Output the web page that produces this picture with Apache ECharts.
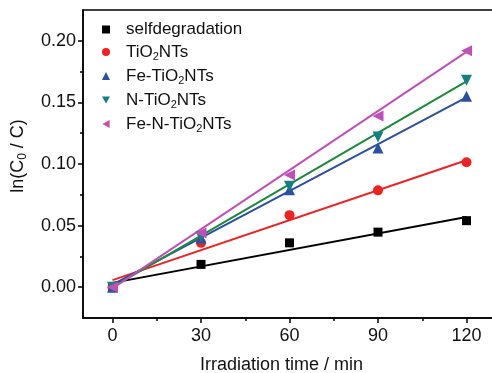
<!DOCTYPE html>
<html><head><meta charset="utf-8">
<script src="https://cdn.jsdelivr.net/npm/echarts@6/dist/echarts.min.js"></script>
<style>html,body{margin:0;padding:0;background:#fff}#c{width:492px;height:373px}</style>
</head><body><div id="c"></div>
<script>
const times = [0, 30, 60, 90, 120];
const selfdeg = [0.000, 0.0185, 0.036, 0.0447, 0.054];
const tio2 = [0.000, 0.036, 0.0585, 0.0786, 0.1014];
const feTio2 = [0.000, 0.040, 0.079, 0.113, 0.155];
const nTio2 = [0.000, 0.041, 0.082, 0.122, 0.168];
const feNTio2 = [0.000, 0.044, 0.091, 0.139, 0.192];
// fit line endpoints [value at 0, value at 120]
const fitSelf = [0.0035, 0.057];
const fitTio2 = [0.0057, 0.103];
const fitFe = [0.002, 0.154];
const fitN = [0.000, 0.167];
const fitFeN = [-0.001, 0.191];
const fitX = [0, 120];
const xLabels = [0, 30, 60, 90, 120];
const xMinor = [15, 45, 75, 105];
const yLabels = [0, 0.05, 0.10, 0.15, 0.20];
const yMinor = [0.025, 0.075, 0.125, 0.175];

const names = ['selfdegradation','TiO2NTs','Fe-TiO2NTs','N-TiO2NTs','Fe-N-TiO2NTs'];
const markerColors = ['#000000','#ee2222','#2c4fa6','#138080','#c050b8'];
const lineColors = ['#000000','#ee2222','#2c4fa6','#1b8a3a','#c050b8'];
const symbols = ['rect','circle','triangle','path://M0,0 L10,0 L5,9 Z','path://M9,0 L9,10 L0,5 Z'];
const sizes = [9,10,11,11,11];
const datas = [selfdeg,tio2,feTio2,nTio2,feNTio2];
const fits = [fitSelf,fitTio2,fitFe,fitN,fitFeN];

const font = 'Liberation Sans, Arial, sans-serif';
const tc = '#111';
const series = [];
fits.forEach((f,i)=>{
  series.push({type:'line', name:'fit'+i, data: fitX.map((x,k)=>[x,f[k]]), showSymbol:false, symbol:'none',
    lineStyle:{color:lineColors[i], width:2}, silent:true, z:2, xAxisIndex:0, yAxisIndex:0});
});
datas.forEach((d,i)=>{
  series.push({type:'scatter', name:names[i], data: times.map((t,k)=>[t,d[k]]), symbol:symbols[i],
    symbolSize:sizes[i], itemStyle:{color:markerColors[i], opacity:1}, z:3, xAxisIndex:0, yAxisIndex:0});
});

const chart = echarts.init(document.getElementById('c'));
chart.setOption({
  animation:false,
  grid:{left:83, top:10, bottom:55, right:-4, show:true, borderColor:'#000', borderWidth:1.5,
    containLabel:false, outerBoundsMode:'none'},
  legend:{
    orient:'vertical', left:102, top:21, itemGap:1, itemWidth:8, itemHeight:8, padding:0,
    data: names,
    formatter: function(n){
      if(n==='selfdegradation') return '{a|selfdegradation}';
      const p = n.split('2');
      return '{a|'+p[0]+'}{s|2}{a|'+p[1]+'}';
    },
    textStyle:{fontFamily:font, fontSize:17, color:tc, padding:[0,0,0,11],
      rich:{a:{fontFamily:font, fontSize:17, color:tc, lineHeight:20},
            s:{fontFamily:font, fontSize:11, color:tc, lineHeight:20, verticalAlign:'bottom', padding:[12,0,0,0]}}}
  },
  xAxis:[
    {type:'value', min:-10, max:130, position:'bottom',
     name:'Irradiation time / min', nameLocation:'middle', nameGap:38,
     nameTextStyle:{fontFamily:font, fontSize:18, color:tc, padding:[0,16,0,0]},
     axisLine:{show:true, onZero:false, lineStyle:{color:'#000', width:1.5}},
     axisTick:{show:true, length:5, lineStyle:{color:'#000', width:1.5}, customValues: xLabels},
     axisLabel:{fontFamily:font, fontSize:18, color:tc, margin:9, customValues: xLabels},
     splitLine:{show:false}},
    {type:'value', min:-10, max:130, position:'bottom',
     axisLine:{show:false, onZero:false},
     axisTick:{show:true, length:3, lineStyle:{color:'#000', width:1.5}, customValues: xMinor},
     axisLabel:{show:false}, splitLine:{show:false}}
  ],
  yAxis:[
    {type:'value', min:-0.025, max:0.225, position:'left',
     name:'{n|ln(C}{s|0}{n| / C)}', nameLocation:'middle', nameGap:54, nameRotate:90,
     nameTextStyle:{fontFamily:font, fontSize:18, color:tc, padding:[0,0,0,16],
       rich:{n:{fontFamily:font, fontSize:18, color:tc, lineHeight:22},
             s:{fontFamily:font, fontSize:12, color:tc, lineHeight:22, verticalAlign:'bottom', padding:[12,0,0,0]}}},
     axisLine:{show:true, onZero:false, lineStyle:{color:'#000', width:1.5}},
     axisTick:{show:true, length:5, lineStyle:{color:'#000', width:1.5}, customValues: yLabels},
     axisLabel:{fontFamily:font, fontSize:18, color:tc, margin:7, customValues: yLabels,
       formatter:v=>v.toFixed(2)},
     splitLine:{show:false}},
    {type:'value', min:-0.025, max:0.225, position:'left',
     axisLine:{show:false, onZero:false},
     axisTick:{show:true, length:3, lineStyle:{color:'#000', width:1.5}, customValues: yMinor},
     axisLabel:{show:false}, splitLine:{show:false}}
  ],
  series: series
});
</script></body></html>
